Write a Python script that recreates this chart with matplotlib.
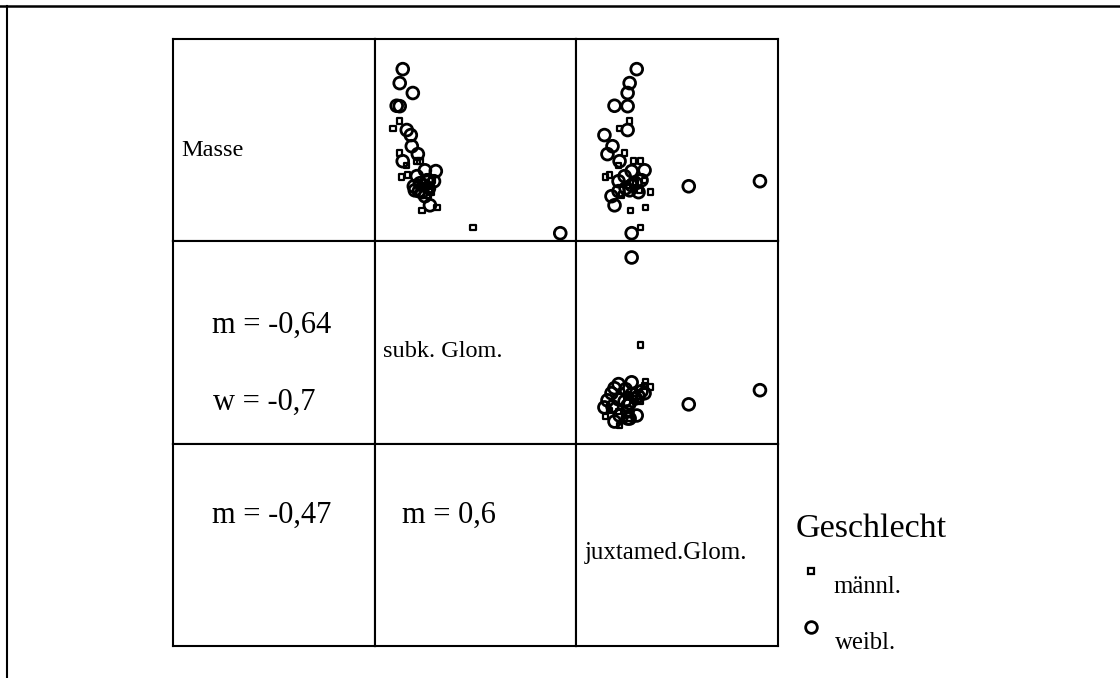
import matplotlib
matplotlib.use("Agg")
import matplotlib.pyplot as plt
import matplotlib.lines as mlines

plt.rcParams['font.family'] = ['Liberation Serif', 'DejaVu Serif']

W, H = 1120, 678

# data (arbitrary units 0..100)
names = ["Masse", "subk. Glom.", "juxtamed.Glom."]

masse_w = [85.1, 78.2, 73.3, 67.0, 66.8, 55.0, 52.5, 47.0, 43.1, 39.6, 35.1, 34.7, 29.7,
           30.2, 27.7, 24.8, 24.3, 17.8, 4.0, 27.2, 29.7, 32.2, 26.2, 22.3, 28.7, 25.2]
subk_w = [13.9, 12.4, 18.9, 10.9, 12.4, 15.9, 17.9, 18.4, 21.4, 13.9, 24.9, 30.3, 29.4,
          25.9, 24.4, 21.9, 23.4, 27.4, 92.0, 19.4, 26.4, 20.9, 26.9, 24.9, 22.4, 19.9]
juxta_w = [29.9, 26.4, 25.4, 18.9, 25.4, 25.4, 13.9, 17.9, 15.4, 21.4, 33.8, 27.4, 20.9,
           32.3, 27.4, 20.9, 30.8, 18.9, 27.4, 55.7, 91.0, 23.9, 24.4, 17.4, 29.4, 26.4]

masse_m = [59.4, 55.9, 43.6, 37.6, 31.7, 32.7, 39.6, 39.6, 15.3, 16.8, 24.3, 6.9, 27.7,
           25.2, 29.2, 22.8, 30.2]
subk_m = [12.4, 9.0, 12.4, 15.9, 13.4, 16.4, 22.4, 20.9, 23.4, 30.8, 27.9, 48.8, 24.4,
          26.9, 20.9, 25.9, 28.4]
juxta_m = [26.4, 21.4, 23.9, 20.9, 14.4, 16.4, 28.4, 31.8, 26.9, 34.3, 36.8, 31.8, 25.4,
           31.3, 29.4, 22.4, 33.8]

# correlations shown in lower triangle
corr_text = {(1, 0): ["m = -0,64", "w = -0,7"],
             (2, 0): ["m = -0,47"],
             (2, 1): ["m = 0,6"]}

vars_w = [masse_w, subk_w, juxta_w]
vars_m = [masse_m, subk_m, juxta_m]


def fx(x):
    return x / W


def fy(y):
    return 1 - y / H


fig = plt.figure(figsize=(W / 100, H / 100), dpi=100)

# outer frame (top and left only)
fig.add_artist(mlines.Line2D([0, 1], [fy(6), fy(6)], color='black', lw=1.8))
fig.add_artist(mlines.Line2D([fx(7), fx(7)], [fy(6), 0], color='black', lw=1.5))

left, top = 173, 39
cw, ch = 201.7, 202.3

for r in range(3):
    for c in range(3):
        x0 = left + c * cw
        y0 = top + r * ch
        ax = fig.add_axes([fx(x0), fy(y0 + ch), cw / W, ch / H])
        ax.set_xlim(0, 100)
        ax.set_ylim(0, 100)
        ax.set_xticks([])
        ax.set_yticks([])
        for s in ax.spines.values():
            s.set_linewidth(1.5)
        if c > r:
            ax.scatter(vars_w[c], vars_w[r], s=72, marker='o', facecolors='none',
                       edgecolors='black', linewidths=2.0, zorder=2)
            ax.scatter(vars_m[c], vars_m[r], s=15, marker='s', facecolors='none',
                       edgecolors='black', linewidths=1.6, zorder=3)

# diagonal labels
fig.text(fx(181), fy(156), names[0], fontsize=17.5, va='baseline', ha='left')
fig.text(fx(383), fy(357), names[1], fontsize=17.5, va='baseline', ha='left')
fig.text(fx(585), fy(559), names[2], fontsize=18, va='baseline', ha='left')

# lower triangle correlations
fig.text(fx(212), fy(333), corr_text[(1, 0)][0], fontsize=22, va='baseline')
fig.text(fx(213), fy(410), corr_text[(1, 0)][1], fontsize=22, va='baseline')
fig.text(fx(212), fy(523), corr_text[(2, 0)][0], fontsize=22, va='baseline')
fig.text(fx(402), fy(523), corr_text[(2, 1)][0], fontsize=22, va='baseline')

# legend
fig.text(fx(796), fy(537), "Geschlecht", fontsize=24.5, va='baseline')
fig.add_artist(mlines.Line2D([fx(811)], [fy(571)], marker='s', markersize=3.8,
                             mfc='none', mec='black', mew=1.6, ls='none'))
fig.add_artist(mlines.Line2D([fx(811)], [fy(627)], marker='o', markersize=8.4,
                             mfc='none', mec='black', mew=2.0, ls='none'))
fig.text(fx(833), fy(593), "männl.", fontsize=17.8, va='baseline')
fig.text(fx(835), fy(649), "weibl.", fontsize=17.8, va='baseline')

fig.savefig("out.png", dpi=100)
